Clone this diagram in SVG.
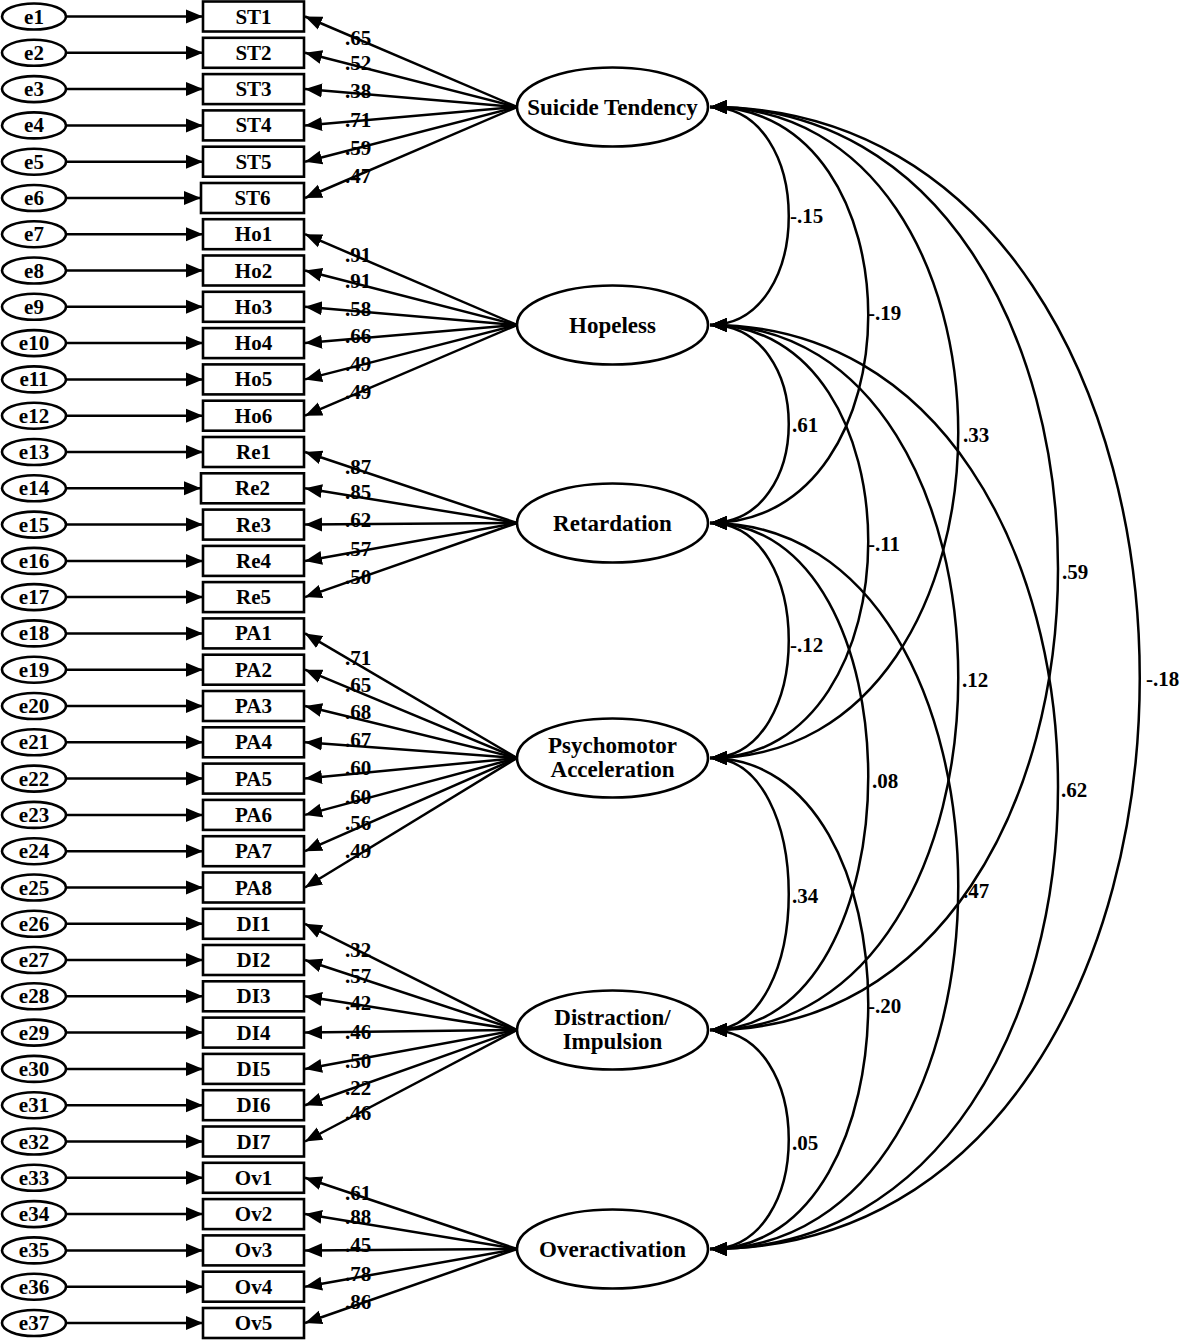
<svg xmlns="http://www.w3.org/2000/svg" width="1183" height="1340" viewBox="0 0 1183 1340">
<style>
text{font-family:"Liberation Serif","Times New Roman",serif;font-weight:bold;fill:#000}
.t{font-size:21px;text-anchor:middle}
.lt{font-size:23px;text-anchor:middle}
.lb{font-size:21px;text-anchor:middle}
.cv{font-size:21px}
.err ellipse{fill:#fff;stroke:#000;stroke-width:2.6}
.obs rect{fill:#fff;stroke:#000;stroke-width:2.6}
.lat ellipse{fill:#fff;stroke:#000;stroke-width:2.6}
.ln{fill:none;stroke:#000;stroke-width:2.5}
</style>
<defs>
<marker id="ah" viewBox="0 -8 17 16" refX="17" refY="0" markerWidth="17" markerHeight="16" markerUnits="userSpaceOnUse" orient="auto-start-reverse">
<path d="M0,-7 L17,0 L0,7 z" fill="#000"/>
</marker>
</defs>

<g id="connectors">
<g class="ln" marker-end="url(#ah)">
<line x1="67" y1="16.5" x2="203" y2="16.5"/>
<line x1="67" y1="52.8" x2="203" y2="52.8"/>
<line x1="67" y1="89.1" x2="203" y2="89.1"/>
<line x1="67" y1="125.4" x2="203" y2="125.4"/>
<line x1="67" y1="161.7" x2="203" y2="161.7"/>
<line x1="67" y1="198" x2="201" y2="198"/>
<line x1="67" y1="234.2" x2="203" y2="234.2"/>
<line x1="67" y1="270.5" x2="203" y2="270.5"/>
<line x1="67" y1="306.8" x2="203" y2="306.8"/>
<line x1="67" y1="343.1" x2="203" y2="343.1"/>
<line x1="67" y1="379.4" x2="203" y2="379.4"/>
<line x1="67" y1="415.7" x2="203" y2="415.7"/>
<line x1="67" y1="452" x2="203" y2="452"/>
<line x1="67" y1="488.3" x2="201" y2="488.3"/>
<line x1="67" y1="524.6" x2="203" y2="524.6"/>
<line x1="67" y1="560.9" x2="203" y2="560.9"/>
<line x1="67" y1="597.1" x2="203" y2="597.1"/>
<line x1="67" y1="633.4" x2="203" y2="633.4"/>
<line x1="67" y1="669.7" x2="203" y2="669.7"/>
<line x1="67" y1="706" x2="203" y2="706"/>
<line x1="67" y1="742.3" x2="203" y2="742.3"/>
<line x1="67" y1="778.6" x2="203" y2="778.6"/>
<line x1="67" y1="814.9" x2="203" y2="814.9"/>
<line x1="67" y1="851.2" x2="203" y2="851.2"/>
<line x1="67" y1="887.5" x2="203" y2="887.5"/>
<line x1="67" y1="923.8" x2="203" y2="923.8"/>
<line x1="67" y1="960" x2="203" y2="960"/>
<line x1="67" y1="996.3" x2="203" y2="996.3"/>
<line x1="67" y1="1032.6" x2="203" y2="1032.6"/>
<line x1="67" y1="1068.9" x2="203" y2="1068.9"/>
<line x1="67" y1="1105.2" x2="203" y2="1105.2"/>
<line x1="67" y1="1141.5" x2="203" y2="1141.5"/>
<line x1="67" y1="1177.8" x2="203" y2="1177.8"/>
<line x1="67" y1="1214.1" x2="203" y2="1214.1"/>
<line x1="67" y1="1250.4" x2="203" y2="1250.4"/>
<line x1="67" y1="1286.7" x2="203" y2="1286.7"/>
<line x1="67" y1="1323" x2="203" y2="1323"/>
</g>
<g class="ln" marker-end="url(#ah)">
<line x1="517" y1="107" x2="305" y2="16.5"/>
<line x1="517" y1="107" x2="305" y2="52.8"/>
<line x1="517" y1="107" x2="305" y2="89.1"/>
<line x1="517" y1="107" x2="305" y2="125.4"/>
<line x1="517" y1="107" x2="305" y2="161.7"/>
<line x1="517" y1="107" x2="305" y2="198"/>
<line x1="517" y1="325" x2="305" y2="234.2"/>
<line x1="517" y1="325" x2="305" y2="270.5"/>
<line x1="517" y1="325" x2="305" y2="306.8"/>
<line x1="517" y1="325" x2="305" y2="343.1"/>
<line x1="517" y1="325" x2="305" y2="379.4"/>
<line x1="517" y1="325" x2="305" y2="415.7"/>
<line x1="517" y1="523" x2="305" y2="452"/>
<line x1="517" y1="523" x2="305" y2="488.3"/>
<line x1="517" y1="523" x2="305" y2="524.6"/>
<line x1="517" y1="523" x2="305" y2="560.9"/>
<line x1="517" y1="523" x2="305" y2="597.1"/>
<line x1="517" y1="758" x2="305" y2="633.4"/>
<line x1="517" y1="758" x2="305" y2="669.7"/>
<line x1="517" y1="758" x2="305" y2="706"/>
<line x1="517" y1="758" x2="305" y2="742.3"/>
<line x1="517" y1="758" x2="305" y2="778.6"/>
<line x1="517" y1="758" x2="305" y2="814.9"/>
<line x1="517" y1="758" x2="305" y2="851.2"/>
<line x1="517" y1="758" x2="305" y2="887.5"/>
<line x1="517" y1="1030" x2="305" y2="923.8"/>
<line x1="517" y1="1030" x2="305" y2="960"/>
<line x1="517" y1="1030" x2="305" y2="996.3"/>
<line x1="517" y1="1030" x2="305" y2="1032.6"/>
<line x1="517" y1="1030" x2="305" y2="1068.9"/>
<line x1="517" y1="1030" x2="305" y2="1105.2"/>
<line x1="517" y1="1030" x2="305" y2="1141.5"/>
<line x1="517" y1="1249" x2="305" y2="1177.8"/>
<line x1="517" y1="1249" x2="305" y2="1214.1"/>
<line x1="517" y1="1249" x2="305" y2="1250.4"/>
<line x1="517" y1="1249" x2="305" y2="1286.7"/>
<line x1="517" y1="1249" x2="305" y2="1323"/>
</g>
<g class="ln" marker-start="url(#ah)" marker-end="url(#ah)">
<path d="M710,107 C815,107 815,325 710,325"/>
<path d="M710,107 C921,107 921,523 710,523"/>
<path d="M710,107 C1041,107 1041,758 710,758"/>
<path d="M710,107 C1174,107 1174,1030 710,1030"/>
<path d="M710,107 C1283,107 1283,1249 710,1249"/>
<path d="M710,325 C815,325 815,523 710,523"/>
<path d="M710,325 C921,325 921,758 710,758"/>
<path d="M710,325 C1041,325 1041,1030 710,1030"/>
<path d="M710,325 C1174,325 1174,1249 710,1249"/>
<path d="M710,523 C815,523 815,758 710,758"/>
<path d="M710,523 C921,523 921,1030 710,1030"/>
<path d="M710,523 C1041,523 1041,1249 710,1249"/>
<path d="M710,758 C815,758 815,1030 710,1030"/>
<path d="M710,758 C921,758 921,1249 710,1249"/>
<path d="M710,1030 C815,1030 815,1249 710,1249"/>
</g>
<g>
<text class="lb" x="358" y="45">.65</text>
<text class="lb" x="358" y="70">.52</text>
<text class="lb" x="358" y="98">.38</text>
<text class="lb" x="358" y="127">.71</text>
<text class="lb" x="358" y="155">.59</text>
<text class="lb" x="358" y="183">.47</text>
<text class="lb" x="358" y="262">.91</text>
<text class="lb" x="358" y="288">.91</text>
<text class="lb" x="358" y="316">.58</text>
<text class="lb" x="358" y="343">.66</text>
<text class="lb" x="358" y="371">.49</text>
<text class="lb" x="358" y="399">.49</text>
<text class="lb" x="358" y="474">.87</text>
<text class="lb" x="358" y="499">.85</text>
<text class="lb" x="358" y="527">.62</text>
<text class="lb" x="358" y="556">.57</text>
<text class="lb" x="358" y="584">.50</text>
<text class="lb" x="358" y="665">.71</text>
<text class="lb" x="358" y="692">.65</text>
<text class="lb" x="358" y="719">.68</text>
<text class="lb" x="358" y="747">.67</text>
<text class="lb" x="358" y="775">.60</text>
<text class="lb" x="358" y="804">.60</text>
<text class="lb" x="358" y="830">.56</text>
<text class="lb" x="358" y="858">.49</text>
<text class="lb" x="358" y="957">.32</text>
<text class="lb" x="358" y="983">.57</text>
<text class="lb" x="358" y="1010">.42</text>
<text class="lb" x="358" y="1039">.46</text>
<text class="lb" x="358" y="1068">.50</text>
<text class="lb" x="358" y="1095">.22</text>
<text class="lb" x="358" y="1120">.46</text>
<text class="lb" x="358" y="1200">.61</text>
<text class="lb" x="358" y="1224">.88</text>
<text class="lb" x="358" y="1252">.45</text>
<text class="lb" x="358" y="1281">.78</text>
<text class="lb" x="358" y="1309">.86</text>
</g>
<g>
<text class="cv" x="790" y="223">-.15</text>
<text class="cv" x="868" y="320">-.19</text>
<text class="cv" x="792" y="432">.61</text>
<text class="cv" x="963" y="442">.33</text>
<text class="cv" x="868" y="551">-.11</text>
<text class="cv" x="1062" y="579">.59</text>
<text class="cv" x="790" y="652">-.12</text>
<text class="cv" x="962" y="687">.12</text>
<text class="cv" x="1146" y="686">-.18</text>
<text class="cv" x="872" y="788">.08</text>
<text class="cv" x="1061" y="797">.62</text>
<text class="cv" x="792" y="903">.34</text>
<text class="cv" x="963" y="898">.47</text>
<text class="cv" x="868" y="1013">-.20</text>
<text class="cv" x="792" y="1150">.05</text>
</g>
</g>

<g id="errors" class="err">
<g id="e1"><ellipse cx="34" cy="16.5" rx="32" ry="13"/><text class="t" x="34" y="23.5">e1</text></g>
<g id="e2"><ellipse cx="34" cy="52.8" rx="32" ry="13"/><text class="t" x="34" y="59.8">e2</text></g>
<g id="e3"><ellipse cx="34" cy="89.1" rx="32" ry="13"/><text class="t" x="34" y="96.1">e3</text></g>
<g id="e4"><ellipse cx="34" cy="125.4" rx="32" ry="13"/><text class="t" x="34" y="132.4">e4</text></g>
<g id="e5"><ellipse cx="34" cy="161.7" rx="32" ry="13"/><text class="t" x="34" y="168.7">e5</text></g>
<g id="e6"><ellipse cx="34" cy="198" rx="32" ry="13"/><text class="t" x="34" y="205">e6</text></g>
<g id="e7"><ellipse cx="34" cy="234.2" rx="32" ry="13"/><text class="t" x="34" y="241.2">e7</text></g>
<g id="e8"><ellipse cx="34" cy="270.5" rx="32" ry="13"/><text class="t" x="34" y="277.5">e8</text></g>
<g id="e9"><ellipse cx="34" cy="306.8" rx="32" ry="13"/><text class="t" x="34" y="313.8">e9</text></g>
<g id="e10"><ellipse cx="34" cy="343.1" rx="32" ry="13"/><text class="t" x="34" y="350.1">e10</text></g>
<g id="e11"><ellipse cx="34" cy="379.4" rx="32" ry="13"/><text class="t" x="34" y="386.4">e11</text></g>
<g id="e12"><ellipse cx="34" cy="415.7" rx="32" ry="13"/><text class="t" x="34" y="422.7">e12</text></g>
<g id="e13"><ellipse cx="34" cy="452" rx="32" ry="13"/><text class="t" x="34" y="459">e13</text></g>
<g id="e14"><ellipse cx="34" cy="488.3" rx="32" ry="13"/><text class="t" x="34" y="495.3">e14</text></g>
<g id="e15"><ellipse cx="34" cy="524.6" rx="32" ry="13"/><text class="t" x="34" y="531.6">e15</text></g>
<g id="e16"><ellipse cx="34" cy="560.9" rx="32" ry="13"/><text class="t" x="34" y="567.9">e16</text></g>
<g id="e17"><ellipse cx="34" cy="597.1" rx="32" ry="13"/><text class="t" x="34" y="604.1">e17</text></g>
<g id="e18"><ellipse cx="34" cy="633.4" rx="32" ry="13"/><text class="t" x="34" y="640.4">e18</text></g>
<g id="e19"><ellipse cx="34" cy="669.7" rx="32" ry="13"/><text class="t" x="34" y="676.7">e19</text></g>
<g id="e20"><ellipse cx="34" cy="706" rx="32" ry="13"/><text class="t" x="34" y="713">e20</text></g>
<g id="e21"><ellipse cx="34" cy="742.3" rx="32" ry="13"/><text class="t" x="34" y="749.3">e21</text></g>
<g id="e22"><ellipse cx="34" cy="778.6" rx="32" ry="13"/><text class="t" x="34" y="785.6">e22</text></g>
<g id="e23"><ellipse cx="34" cy="814.9" rx="32" ry="13"/><text class="t" x="34" y="821.9">e23</text></g>
<g id="e24"><ellipse cx="34" cy="851.2" rx="32" ry="13"/><text class="t" x="34" y="858.2">e24</text></g>
<g id="e25"><ellipse cx="34" cy="887.5" rx="32" ry="13"/><text class="t" x="34" y="894.5">e25</text></g>
<g id="e26"><ellipse cx="34" cy="923.8" rx="32" ry="13"/><text class="t" x="34" y="930.8">e26</text></g>
<g id="e27"><ellipse cx="34" cy="960" rx="32" ry="13"/><text class="t" x="34" y="967">e27</text></g>
<g id="e28"><ellipse cx="34" cy="996.3" rx="32" ry="13"/><text class="t" x="34" y="1003.3">e28</text></g>
<g id="e29"><ellipse cx="34" cy="1032.6" rx="32" ry="13"/><text class="t" x="34" y="1039.6">e29</text></g>
<g id="e30"><ellipse cx="34" cy="1068.9" rx="32" ry="13"/><text class="t" x="34" y="1075.9">e30</text></g>
<g id="e31"><ellipse cx="34" cy="1105.2" rx="32" ry="13"/><text class="t" x="34" y="1112.2">e31</text></g>
<g id="e32"><ellipse cx="34" cy="1141.5" rx="32" ry="13"/><text class="t" x="34" y="1148.5">e32</text></g>
<g id="e33"><ellipse cx="34" cy="1177.8" rx="32" ry="13"/><text class="t" x="34" y="1184.8">e33</text></g>
<g id="e34"><ellipse cx="34" cy="1214.1" rx="32" ry="13"/><text class="t" x="34" y="1221.1">e34</text></g>
<g id="e35"><ellipse cx="34" cy="1250.4" rx="32" ry="13"/><text class="t" x="34" y="1257.4">e35</text></g>
<g id="e36"><ellipse cx="34" cy="1286.7" rx="32" ry="13"/><text class="t" x="34" y="1293.7">e36</text></g>
<g id="e37"><ellipse cx="34" cy="1323" rx="32" ry="13"/><text class="t" x="34" y="1330">e37</text></g>
</g>

<g id="observed" class="obs">
<g id="ST1"><rect x="203" y="1.5" width="101" height="30"/><text class="t" x="253.5" y="23.5">ST1</text></g>
<g id="ST2"><rect x="203" y="37.8" width="101" height="30"/><text class="t" x="253.5" y="59.8">ST2</text></g>
<g id="ST3"><rect x="203" y="74.1" width="101" height="30"/><text class="t" x="253.5" y="96.1">ST3</text></g>
<g id="ST4"><rect x="203" y="110.4" width="101" height="30"/><text class="t" x="253.5" y="132.4">ST4</text></g>
<g id="ST5"><rect x="203" y="146.7" width="101" height="30"/><text class="t" x="253.5" y="168.7">ST5</text></g>
<g id="ST6"><rect x="201" y="183" width="103" height="30"/><text class="t" x="252.5" y="205">ST6</text></g>
<g id="Ho1"><rect x="203" y="219.2" width="101" height="30"/><text class="t" x="253.5" y="241.2">Ho1</text></g>
<g id="Ho2"><rect x="203" y="255.5" width="101" height="30"/><text class="t" x="253.5" y="277.5">Ho2</text></g>
<g id="Ho3"><rect x="203" y="291.8" width="101" height="30"/><text class="t" x="253.5" y="313.8">Ho3</text></g>
<g id="Ho4"><rect x="203" y="328.1" width="101" height="30"/><text class="t" x="253.5" y="350.1">Ho4</text></g>
<g id="Ho5"><rect x="203" y="364.4" width="101" height="30"/><text class="t" x="253.5" y="386.4">Ho5</text></g>
<g id="Ho6"><rect x="203" y="400.7" width="101" height="30"/><text class="t" x="253.5" y="422.7">Ho6</text></g>
<g id="Re1"><rect x="203" y="437" width="101" height="30"/><text class="t" x="253.5" y="459">Re1</text></g>
<g id="Re2"><rect x="201" y="473.3" width="103" height="30"/><text class="t" x="252.5" y="495.3">Re2</text></g>
<g id="Re3"><rect x="203" y="509.6" width="101" height="30"/><text class="t" x="253.5" y="531.6">Re3</text></g>
<g id="Re4"><rect x="203" y="545.9" width="101" height="30"/><text class="t" x="253.5" y="567.9">Re4</text></g>
<g id="Re5"><rect x="203" y="582.1" width="101" height="30"/><text class="t" x="253.5" y="604.1">Re5</text></g>
<g id="PA1"><rect x="203" y="618.4" width="101" height="30"/><text class="t" x="253.5" y="640.4">PA1</text></g>
<g id="PA2"><rect x="203" y="654.7" width="101" height="30"/><text class="t" x="253.5" y="676.7">PA2</text></g>
<g id="PA3"><rect x="203" y="691" width="101" height="30"/><text class="t" x="253.5" y="713">PA3</text></g>
<g id="PA4"><rect x="203" y="727.3" width="101" height="30"/><text class="t" x="253.5" y="749.3">PA4</text></g>
<g id="PA5"><rect x="203" y="763.6" width="101" height="30"/><text class="t" x="253.5" y="785.6">PA5</text></g>
<g id="PA6"><rect x="203" y="799.9" width="101" height="30"/><text class="t" x="253.5" y="821.9">PA6</text></g>
<g id="PA7"><rect x="203" y="836.2" width="101" height="30"/><text class="t" x="253.5" y="858.2">PA7</text></g>
<g id="PA8"><rect x="203" y="872.5" width="101" height="30"/><text class="t" x="253.5" y="894.5">PA8</text></g>
<g id="DI1"><rect x="203" y="908.8" width="101" height="30"/><text class="t" x="253.5" y="930.8">DI1</text></g>
<g id="DI2"><rect x="203" y="945" width="101" height="30"/><text class="t" x="253.5" y="967">DI2</text></g>
<g id="DI3"><rect x="203" y="981.3" width="101" height="30"/><text class="t" x="253.5" y="1003.3">DI3</text></g>
<g id="DI4"><rect x="203" y="1017.6" width="101" height="30"/><text class="t" x="253.5" y="1039.6">DI4</text></g>
<g id="DI5"><rect x="203" y="1053.9" width="101" height="30"/><text class="t" x="253.5" y="1075.9">DI5</text></g>
<g id="DI6"><rect x="203" y="1090.2" width="101" height="30"/><text class="t" x="253.5" y="1112.2">DI6</text></g>
<g id="DI7"><rect x="203" y="1126.5" width="101" height="30"/><text class="t" x="253.5" y="1148.5">DI7</text></g>
<g id="Ov1"><rect x="203" y="1162.8" width="101" height="30"/><text class="t" x="253.5" y="1184.8">Ov1</text></g>
<g id="Ov2"><rect x="203" y="1199.1" width="101" height="30"/><text class="t" x="253.5" y="1221.1">Ov2</text></g>
<g id="Ov3"><rect x="203" y="1235.4" width="101" height="30"/><text class="t" x="253.5" y="1257.4">Ov3</text></g>
<g id="Ov4"><rect x="203" y="1271.7" width="101" height="30"/><text class="t" x="253.5" y="1293.7">Ov4</text></g>
<g id="Ov5"><rect x="203" y="1308" width="101" height="30"/><text class="t" x="253.5" y="1330">Ov5</text></g>
</g>

<g id="latents" class="lat">
<g id="SuicideTendency"><ellipse cx="612.5" cy="107" rx="95.5" ry="39.5"/><text class="lt" x="612.5" y="115">Suicide Tendency</text></g>
<g id="Hopeless"><ellipse cx="612.5" cy="325" rx="95.5" ry="39.5"/><text class="lt" x="612.5" y="333">Hopeless</text></g>
<g id="Retardation"><ellipse cx="612.5" cy="523" rx="95.5" ry="39.5"/><text class="lt" x="612.5" y="531">Retardation</text></g>
<g id="PsychomotorAcceleration"><ellipse cx="612.5" cy="758" rx="95.5" ry="39.5"/><text class="lt" x="612.5" y="753">Psychomotor</text><text class="lt" x="612.5" y="777">Acceleration</text></g>
<g id="DistractionImpulsion"><ellipse cx="612.5" cy="1030" rx="95.5" ry="39.5"/><text class="lt" x="612.5" y="1025">Distraction/</text><text class="lt" x="612.5" y="1049">Impulsion</text></g>
<g id="Overactivation"><ellipse cx="612.5" cy="1249" rx="95.5" ry="39.5"/><text class="lt" x="612.5" y="1257">Overactivation</text></g>
</g>
</svg>
